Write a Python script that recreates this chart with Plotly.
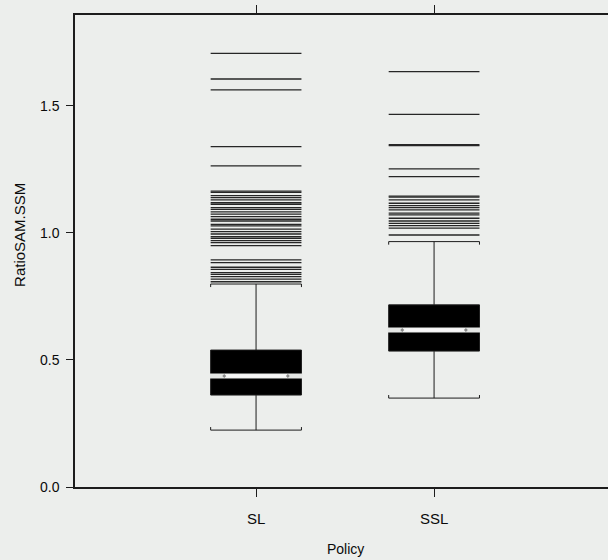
import plotly.graph_objects as go

# Policy groups and their positions on the category axis
policies = ["SL", "SSL"]
positions = [1, 2]

# Five-number summaries of RatioSAM.SSM per policy
lower_whisker = [0.224, 0.350]
q1_values = [0.362, 0.535]
median_values = [0.437, 0.618]
q3_values = [0.539, 0.717]
upper_whisker = [0.799, 0.966]

# Outlying observations (drawn as horizontal bars)
outliers_sl = [1.707, 1.606, 1.563, 1.340, 1.264, 1.165, 1.160, 1.147, 1.139,
               1.130, 1.119, 1.113, 1.100, 1.093, 1.083, 1.074, 1.064, 1.054,
               1.047, 1.034, 1.028, 1.015, 1.005, 0.996, 0.985, 0.979, 0.970,
               0.962, 0.950, 0.894, 0.883, 0.865, 0.857, 0.844, 0.837, 0.828,
               0.818, 0.808]
outliers_ssl = [1.635, 1.467, 1.348, 1.344, 1.252, 1.222, 1.145, 1.141, 1.130,
                1.117, 1.108, 1.100, 1.091, 1.078, 1.071, 1.058, 1.047, 1.038,
                1.029, 1.019, 0.992]
outliers = [outliers_sl, outliers_ssl]

y_ticks = [0.0, 0.5, 1.0, 1.5]

BOX_W = 0.51
NOTCH_INSET = 0.15  # fraction of the box width on each side left out of the median bar
BG = "#eceeec"
INK = "#1c1c1c"

fig = go.Figure()

for i, pos in enumerate(positions):
    fig.add_trace(go.Box(
        x=[pos], q1=[q1_values[i]], median=[median_values[i]], q3=[q3_values[i]],
        lowerfence=[lower_whisker[i]], upperfence=[upper_whisker[i]],
        width=BOX_W, whiskerwidth=1, boxpoints=False,
        fillcolor="#000000", line=dict(color=INK, width=1),
        showlegend=False, hoverinfo="skip",
    ))

    half = BOX_W / 2
    inner = half - BOX_W * NOTCH_INSET
    # light gap across the box at the median
    fig.add_trace(go.Scatter(
        x=[pos - half - 0.004, pos + half + 0.004], y=[median_values[i]] * 2,
        mode="lines", line=dict(color="#e4e6e4", width=5),
        showlegend=False, hoverinfo="skip",
    ))
    # white median bar between the notches
    fig.add_trace(go.Scatter(
        x=[pos - inner, pos + inner], y=[median_values[i]] * 2,
        mode="lines", line=dict(color="#f7f7f7", width=3.5),
        showlegend=False, hoverinfo="skip",
    ))
    # notch tips
    fig.add_trace(go.Scatter(
        x=[pos - inner, pos + inner], y=[median_values[i]] * 2,
        mode="markers", marker=dict(color="#8a8a8a", size=3, symbol="diamond"),
        showlegend=False, hoverinfo="skip",
    ))

    # small end ticks on the whisker caps, turned toward the box
    tick = 0.012
    cx, cy = [], []
    for sx in (-half, half):
        cx += [pos + sx, pos + sx, None, pos + sx, pos + sx, None]
        cy += [lower_whisker[i], lower_whisker[i] + tick, None,
               upper_whisker[i], upper_whisker[i] - tick, None]
    fig.add_trace(go.Scatter(
        x=cx, y=cy, mode="lines", line=dict(color=INK, width=1),
        showlegend=False, hoverinfo="skip",
    ))

    # outliers as horizontal bars across the box width
    ox, oy = [], []
    for v in outliers[i]:
        ox += [pos - half, pos + half, None]
        oy += [v, v, None]
    fig.add_trace(go.Scatter(
        x=ox, y=oy, mode="lines", line=dict(color="#262626", width=1.3),
        showlegend=False, hoverinfo="skip",
    ))

fig.update_layout(
    width=608, height=560,
    margin=dict(l=75, r=0, t=15, b=73),
    paper_bgcolor=BG, plot_bgcolor=BG,
    font=dict(family="Liberation Sans, Arial, sans-serif", size=14, color="#0a0a0a"),
    xaxis=dict(
        range=[-0.017, 2.977], tickvals=positions, ticktext=policies,
        showline=True, linecolor=INK, linewidth=1.5, mirror="allticks",
        ticks="outside", ticklen=8, tickwidth=1, tickcolor=INK,
        ticklabelstandoff=9, tickfont=dict(size=15),
        showgrid=False, zeroline=False,
    ),
    yaxis=dict(
        range=[0, 1.858], tickvals=y_ticks, tickformat=".1f",
        showline=True, linecolor=INK, linewidth=1.5, mirror=False,
        ticks="outside", ticklen=7, tickwidth=1, tickcolor=INK,
        ticklabelstandoff=4, tickfont=dict(size=14),
        showgrid=False, zeroline=False,
    ),
    annotations=[
        dict(text="RatioSAM.SSM", xref="paper", yref="paper", x=0, y=0.534,
             xshift=-55, xanchor="center", yanchor="middle", textangle=-90,
             showarrow=False, font=dict(size=15)),
        dict(text="Policy", xref="paper", yref="paper", x=0.508, y=0,
             yshift=-62, xanchor="center", yanchor="middle",
             showarrow=False, font=dict(size=14)),
    ],
)

fig.write_html("out.html")
